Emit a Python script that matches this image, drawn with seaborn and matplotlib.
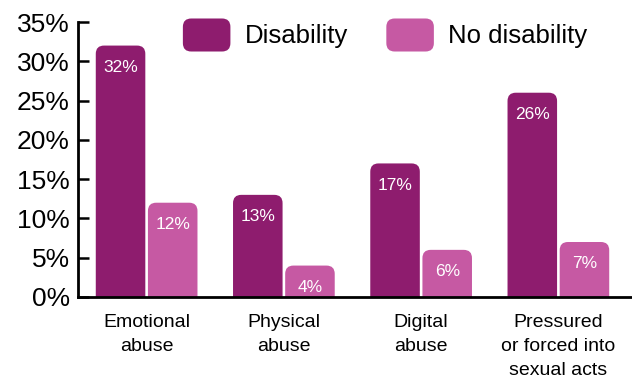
import matplotlib
matplotlib.use("Agg")
import matplotlib.pyplot as plt
import seaborn as sns
import pandas as pd
from matplotlib.patches import FancyBboxPatch, Patch
from matplotlib.legend_handler import HandlerPatch

categories = ["Emotional\nabuse", "Physical\nabuse", "Digital\nabuse", "Pressured\nor forced into\nsexual acts"]
disability = [32, 13, 17, 26]
no_disability = [12, 4, 6, 7]
series = ["Disability", "No disability"]
colors = ["#8E1C6E", "#C659A3"]
yticks = [0, 5, 10, 15, 20, 25, 30, 35]

df = pd.DataFrame({
    "category": categories * 2,
    "value": disability + no_disability,
    "group": [series[0]] * 4 + [series[1]] * 4,
})

sns.set_style("white")
plt.rcParams["font.family"] = ["Liberation Sans", "DejaVu Sans"]
plt.rcParams["text.color"] = "black"
plt.rcParams["xtick.color"] = "black"
plt.rcParams["ytick.color"] = "black"

fig = plt.figure(figsize=(6.32, 3.85), dpi=100)
ax = fig.add_axes([78/632, 1-297/385, 549/632, 275/385])
sns.barplot(data=df, x="category", y="value", hue="group", palette=colors,
            saturation=1, width=0.76, gap=0.05, ax=ax, legend=False)

rs = 0.06
px_per_x = 549 / 4.0
px_per_y = 275 / 35.0
aspect = px_per_x / px_per_y
for p in list(ax.patches):
    x0 = p.get_x(); w = p.get_width(); h = p.get_height()
    fc = p.get_facecolor()
    p.set_visible(False)
    fb = FancyBboxPatch((x0, -3), w, h + 3,
                        boxstyle=f"round,pad=0,rounding_size={rs}",
                        mutation_aspect=aspect, facecolor=fc, edgecolor="none",
                        clip_on=True)
    ax.add_patch(fb)
    ax.text(x0 + w/2, h - 2.8, f"{int(round(h))}%", ha="center", va="center",
            color="white", fontsize=12.5)

ax.set_xlim(-0.5, 3.5)
ax.set_ylim(0, 35)
ax.set_yticks(yticks)
ax.set_yticklabels([f"{v}%" for v in yticks], fontsize=19)
ax.set_xticks(range(4))
ax.set_xticklabels(categories, fontsize=14, linespacing=1.55)
ax.set_xticks([0.5, 1.5, 2.5, 3.5], minor=True)
ax.tick_params(axis="x", which="major", length=0, pad=12)
ax.tick_params(axis="x", which="minor", direction="in", length=6, width=1.8, color="black")
ax.tick_params(axis="y", direction="in", length=8, width=1.8, color="black", pad=6, left=True)
ax.set_xlabel(""); ax.set_ylabel("")
for s in ["top", "right"]:
    ax.spines[s].set_visible(False)
for s in ["left", "bottom"]:
    ax.spines[s].set_linewidth(2)
    ax.spines[s].set_color("black")
ax.spines["bottom"].set_bounds(-0.5, 3.54)

def make_round(legend, orig_handle, xdescent, ydescent, width, height, fontsize):
    return FancyBboxPatch((-xdescent, -ydescent), width, height,
                          boxstyle="round,pad=0,rounding_size=6")

handles = [Patch(facecolor=c, edgecolor="none", label=s) for c, s in zip(colors, series)]
ax.legend(handles=handles, loc="center", bbox_to_anchor=(385/632, 1-35/385),
          bbox_transform=fig.transFigure, ncol=2, frameon=False, fontsize=18.5,
          handlelength=1.85, handleheight=1.6, handletextpad=0.55, columnspacing=1.5,
          handler_map={Patch: HandlerPatch(patch_func=make_round)})

fig.savefig("out.png", dpi=100)
